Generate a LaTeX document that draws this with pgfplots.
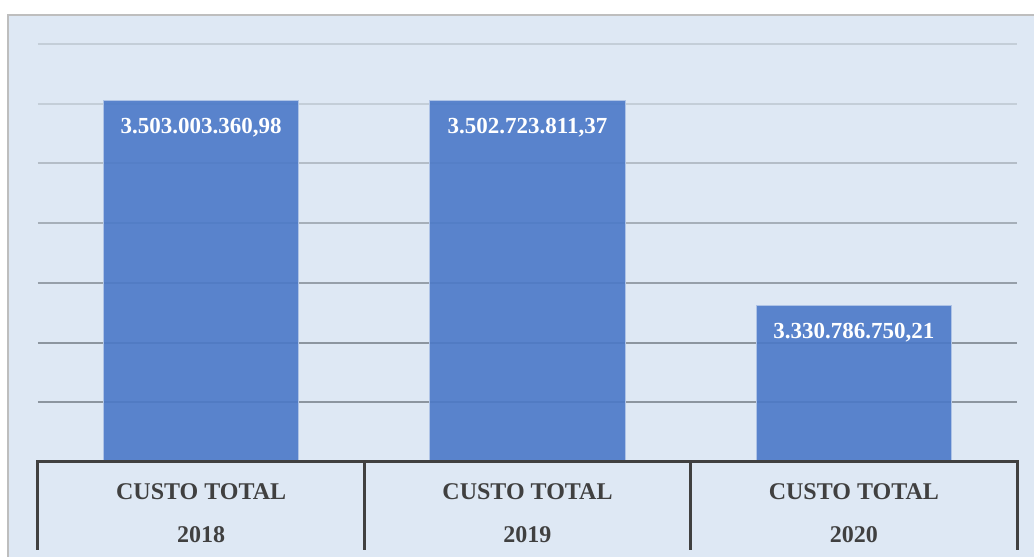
\documentclass[border=0pt]{standalone}
\usepackage{pgfplots}
\pgfplotsset{compat=1.18}
\usepackage{fontspec}
\setmainfont{Liberation Serif}
\definecolor{bgblue}{RGB}{222,232,244}
\definecolor{barblue}{RGB}{75,121,200}
\definecolor{frame}{RGB}{190,190,190}
\definecolor{darkline}{RGB}{64,64,64}
\definecolor{gridA}{RGB}{196,206,216}
\definecolor{gridB}{RGB}{180,189,199}
\definecolor{gridC}{RGB}{166,175,185}
\definecolor{gridD}{RGB}{150,159,169}
\definecolor{gridE}{RGB}{140,149,159}
\tikzset{catlabel/.style={anchor=base, text=darkline, font=\bfseries\fontsize{12}{14}\selectfont}}
\begin{document}
\begin{tikzpicture}
% page size: 1034 x 557 px at 0.5pt per px
\useasboundingbox (0,0) rectangle (517pt,278.5pt);
\fill[bgblue] (4pt,-10pt) rectangle (530pt,271pt);
\draw[frame, line width=0.6pt] (4pt,-10pt) -- (4pt,271pt) -- (530pt,271pt);
\begin{axis}[
    at={(19pt,47.5pt)}, anchor=south west,
    scale only axis,
    width=489.5pt, height=209pt,
    xmin=-0.5, xmax=2.5,
    ymin=3200, ymax=3550,
    hide axis,
    clip mode=individual,
]
% gridlines (millions)
\addplot[gridA, line width=1pt] coordinates {(-0.5,3550) (2.5,3550)};
\addplot[gridA, line width=1pt] coordinates {(-0.5,3500) (2.5,3500)};
\addplot[gridB, line width=1pt] coordinates {(-0.5,3450) (2.5,3450)};
\addplot[gridC, line width=1pt] coordinates {(-0.5,3400) (2.5,3400)};
\addplot[gridD, line width=1pt] coordinates {(-0.5,3350) (2.5,3350)};
\addplot[gridE, line width=1pt] coordinates {(-0.5,3300) (2.5,3300)};
\addplot[gridE, line width=1pt] coordinates {(-0.5,3250) (2.5,3250)};
% bars
\addplot[ybar, bar width=97.5pt, fill=barblue, fill opacity=0.9,
    draw=barblue!45!white, line width=0.5pt,
    point meta=explicit symbolic,
    nodes near coords,
    every node near coord/.append style={anchor=base, yshift=-16.5pt,
        text=white, text opacity=1, fill opacity=1,
        font=\bfseries\fontsize{11.5}{13}\selectfont},
] coordinates {
    (0,3503.00336098) [3.503.003.360,98]
    (1,3502.72381137) [3.502.723.811,37]
    (2,3330.78675021) [3.330.786.750,21]
};
% category table (44pt below the axis = 73.68 units)
\draw[darkline, line width=1.5pt]
    (axis cs:-0.5,3126.32) -- (axis cs:-0.5,3200) -- (axis cs:2.5,3200) -- (axis cs:2.5,3126.32);
\draw[darkline, line width=1.5pt] (axis cs:0.5,3200) -- (axis cs:0.5,3126.32);
\draw[darkline, line width=1.5pt] (axis cs:1.5,3200) -- (axis cs:1.5,3126.32);
\node[catlabel, yshift=-19pt] at (axis cs:0,3200) {CUSTO TOTAL};
\node[catlabel, yshift=-40.5pt] at (axis cs:0,3200) {2018};
\node[catlabel, yshift=-19pt] at (axis cs:1,3200) {CUSTO TOTAL};
\node[catlabel, yshift=-40.5pt] at (axis cs:1,3200) {2019};
\node[catlabel, yshift=-19pt] at (axis cs:2,3200) {CUSTO TOTAL};
\node[catlabel, yshift=-40.5pt] at (axis cs:2,3200) {2020};
\end{axis}
\end{tikzpicture}
\end{document}
